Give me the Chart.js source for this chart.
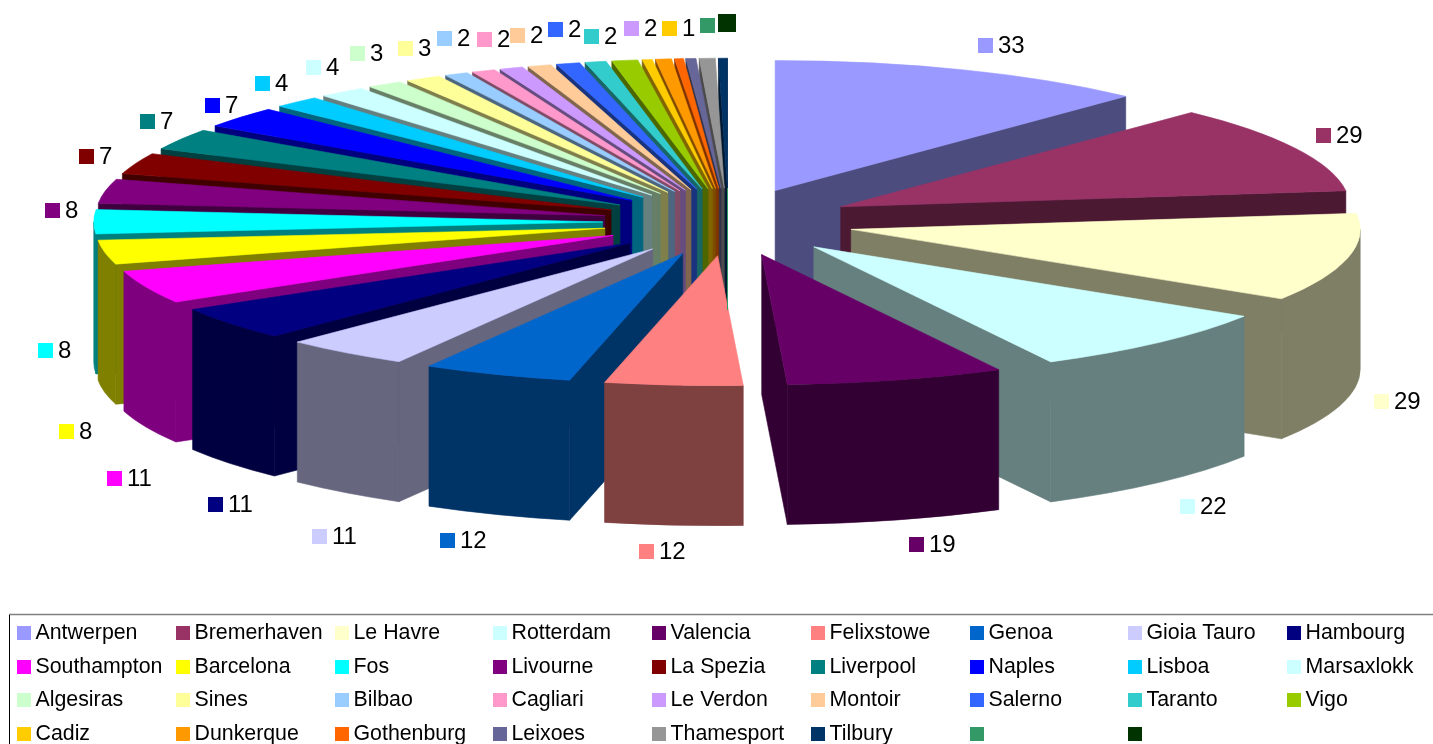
<!DOCTYPE html>
<html><head><meta charset="utf-8">
<style>html,body{margin:0;padding:0;background:#fff;overflow:hidden}canvas{display:block}</style>
<script src="https://cdn.jsdelivr.net/npm/chart.js@4/dist/chart.umd.js"></script>
</head><body><canvas id="c" width="1433" height="744"></canvas>
<script>
const categories = ['Antwerpen','Bremerhaven','Le Havre','Rotterdam','Valencia','Felixstowe','Genoa','Gioia Tauro','Hambourg',
  'Southampton','Barcelona','Fos','Livourne','La Spezia','Liverpool','Naples','Lisboa','Marsaxlokk',
  'Algesiras','Sines','Bilbao','Cagliari','Le Verdon','Montoir','Salerno','Taranto','Vigo',
  'Cadiz','Dunkerque','Gothenburg','Leixoes','Thamesport','Tilbury','',''];
const portValues = [32.4,29.3,29.3,22.3,18.5,11.7,12.7,10.7,11.1,11,8,8,8,7,7,7,4,4,3,3,2,2,2,2,2,1.8,2.2,0.85,1.35,0.75,0.85,1.35,0.75,0,0];
const valueLabels = ['33','29','29','22','19','12','12','11','11','11','8','8','8','7','7','7','4','4','3','3','2','2','2','2','2','2','','1','','','','','','',''];
const sliceColors = ['#9999FF','#993366','#FFFFCC','#CCFFFF','#660066','#FF8080','#0066CC','#CCCCFF','#000080',
  '#FF00FF','#FFFF00','#00FFFF','#800080','#800000','#008080','#0000FF','#00CCFF','#CCFFFF',
  '#CCFFCC','#FFFF99','#99CCFF','#FF99CC','#CC99FF','#FFCC99','#3366FF','#33CCCC','#99CC00',
  '#FFCC00','#FF9900','#FF6600','#666699','#969696','#003366','#339966','#003300'];
// value-label key placement [x, y] per slice; null = label not shown
const labelKeys = [[978,38],[1316,128],[1374,394],[1180,499],[909,537],[639,544],[440,533],[312,529],[208,497],
  [107,471],[59,424],[38,343],[45,203],[79,149],[140,114],[205,98],[255,76],[306,60],
  [350,46],[398,41],[437,31],[477,32],[624,21],[510,28],[548,22],[584,29],null,
  [662,21],null,null,null,null,null,[700,18],[718,14]];

const RX = 509, RY = 130, DEPTH = 140, EXPLODE_X = 0.247, EXPLODE_Y = 0.26;
const LEGEND_FONT = '21.33px "Liberation Sans", Arial, sans-serif';
const VALUE_FONT = '24px "Liberation Sans", Arial, sans-serif';

function shade(hex){
  const n = parseInt(hex.slice(1),16);
  return `rgb(${(n>>16)>>1},${((n>>8)&255)>>1},${(n&255)>>1})`;
}

const pie3d = {
  id:'pie3d',
  beforeDatasetsDraw(chart){
    const ctx = chart.ctx, arcs = chart.getDatasetMeta(0).data;
    const items = arcs.map((a,i)=>{
      const mid = (a.startAngle+a.endAngle)/2;
      return {i,s:a.startAngle,e:a.endAngle,mid,
        cx:a.x+RX*EXPLODE_X*Math.cos(mid), cy:a.y+RY*EXPLODE_Y*Math.sin(mid)};
    }).sort((p,q)=>Math.sin(p.mid)-Math.sin(q.mid));
    ctx.save();
    ctx.lineWidth = 0.6; ctx.lineJoin = 'round';
    for(const it of items){
      const col = sliceColors[it.i], dark = shade(col);
      const {cx,cy,s,e} = it;
      if(e-s<1e-6){ continue; }
      ctx.fillStyle = dark; ctx.strokeStyle = dark;
      const face = t=>{
        const x=cx+RX*Math.cos(t), y=cy+RY*Math.sin(t);
        ctx.beginPath();ctx.moveTo(cx,cy);ctx.lineTo(x,y);ctx.lineTo(x,y+DEPTH);ctx.lineTo(cx,cy+DEPTH);ctx.closePath();ctx.fill();ctx.stroke();
      };
      if(Math.cos(s)<0) face(s);
      if(Math.cos(e)>0) face(e);
      const a1=Math.max(s,0), a2=Math.min(e,Math.PI);
      if(a1<a2){
        ctx.beginPath();
        ctx.ellipse(cx,cy,RX,RY,0,a1,a2);
        ctx.ellipse(cx,cy+DEPTH,RX,RY,0,a2,a1,true);
        ctx.closePath();ctx.fill();ctx.stroke();
      }
      ctx.fillStyle = col; ctx.strokeStyle = col;
      ctx.beginPath();ctx.moveTo(cx,cy);
      ctx.ellipse(cx,cy,RX,RY,0,s,e);
      ctx.closePath();ctx.fill();ctx.stroke();
    }
    const z = items.find(it=>it.e-it.s<1e-6);
    if(z){
      ctx.strokeStyle = sliceColors[z.i]; ctx.lineWidth = 1;
      ctx.beginPath();ctx.moveTo(727.5,188);ctx.lineTo(727.5,310);ctx.stroke();
    }
    ctx.restore();
    return false;
  },
  afterDraw(chart){
    const ctx = chart.ctx;
    ctx.save();
    ctx.textBaseline='middle'; ctx.textAlign='left'; ctx.font=VALUE_FONT;
    labelKeys.forEach((k,i)=>{
      if(!k) return;
      const size = i===labelKeys.length-1 ? 18 : 15;
      ctx.fillStyle = sliceColors[i];
      ctx.fillRect(k[0],k[1],size,size);
      if(valueLabels[i]){
        ctx.fillStyle='#000';
        ctx.fillText(valueLabels[i],k[0]+20,k[1]+8);
      }
    });
    ctx.font=LEGEND_FONT;
    ctx.strokeStyle='#808080'; ctx.lineWidth=1.5;
    ctx.beginPath();ctx.moveTo(9,614.5);ctx.lineTo(1433,614.5);ctx.stroke();
    ctx.strokeStyle='#000'; ctx.lineWidth=1;
    ctx.beginPath();ctx.moveTo(9.5,744);ctx.lineTo(9.5,615);ctx.stroke();
    categories.forEach((name,i)=>{
      const col=i%9,row=Math.floor(i/9);
      const x=17+col*158.75,y=626+row*33.6;
      ctx.fillStyle=sliceColors[i];
      ctx.fillRect(Math.round(x),Math.round(y),14,14);
      ctx.fillStyle='#000';
      ctx.fillText(name,Math.round(x)+18.5,Math.round(y)+7);
    });
    ctx.restore();
  }
};

new Chart(document.getElementById('c'),{
  type:'pie',
  data:{labels:categories,datasets:[{data:portValues,backgroundColor:sliceColors,borderWidth:0}]},
  options:{
    responsive:false,animation:false,
    layout:{padding:{left:24,right:0,top:0,bottom:300}},
    plugins:{legend:{display:false},tooltip:{enabled:false}}
  },
  plugins:[pie3d]
});
</script></body></html>
